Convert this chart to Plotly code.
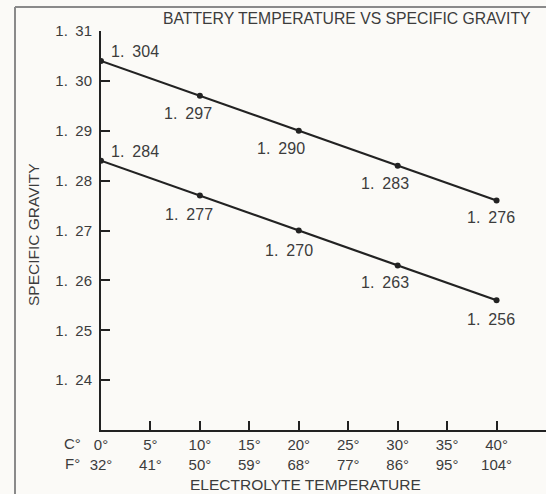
import plotly.graph_objects as go

# Electrolyte temperature (°C) at which specific gravity was read
temp_c = [0, 10, 20, 30, 40]
# Specific gravity, fully charged reading and lower reading
sg_upper = [1.304, 1.297, 1.290, 1.283, 1.276]
sg_lower = [1.284, 1.277, 1.270, 1.263, 1.256]

# Axis tick labels
x_tick_vals = [0, 5, 10, 15, 20, 25, 30, 35, 40]
fahrenheit_labels = ["32°", "41°", "50°", "59°", "68°", "77°", "86°", "95°", "104°"]
y_tick_vals = [1.24, 1.25, 1.26, 1.27, 1.28, 1.29, 1.30, 1.31]

W, H = 546, 494
BG = "#fbfaf7"
INK = "#222222"
TXT = "#3c3c3c"
FONT = "Liberation Sans, Arial, sans-serif"
EN_SPACE = "\u2002"

# label offsets (pixels) for the value captions of each point
upper_dx = [8, -12, -18, -13, -6]
upper_dy = [9, -18, -18, -18, -17]
lower_dx = [8, -11, -10, -13, -6]
lower_dy = [9, -19, -20, -17, -19]


def fmt(v, digits=3):
    return f"{v:.{digits}f}".replace(".", "." + EN_SPACE)


fig = go.Figure()
for ys in (sg_upper, sg_lower):
    fig.add_trace(go.Scatter(
        x=temp_c, y=ys, mode="lines+markers",
        line=dict(color=INK, width=2.2),
        marker=dict(color=INK, size=6),
        showlegend=False, hoverinfo="skip",
    ))

annotations = []
for ys, dxs, dys in ((sg_upper, upper_dx, upper_dy), (sg_lower, lower_dx, lower_dy)):
    for i, (x, y) in enumerate(zip(temp_c, ys)):
        annotations.append(dict(
            x=x, y=y, xref="x", yref="y", text=fmt(y), showarrow=False,
            xanchor="left" if i == 0 else "center", yanchor="middle",
            xshift=dxs[i], yshift=dys[i],
            font=dict(family=FONT, size=16, color=TXT),
        ))

# title, axis titles and unit markers
annotations += [
    dict(x=533 / W, y=1 - 19 / H, xref="paper", yref="paper", xanchor="right",
         yanchor="middle", showarrow=False,
         text="BATTERY TEMPERATURE VS SPECIFIC GRAVITY",
         font=dict(family=FONT, size=15.75, color=TXT)),
    dict(x=33 / W, y=1 - 235 / H, xref="paper", yref="paper", xanchor="center",
         yanchor="middle", showarrow=False, textangle=-90,
         text="SPECIFIC GRAVITY", font=dict(family=FONT, size=15.5, color=TXT)),
    dict(x=305 / W, y=1 - 484 / H, xref="paper", yref="paper", xanchor="center",
         yanchor="middle", showarrow=False,
         text="ELECTROLYTE TEMPERATURE", font=dict(family=FONT, size=15.5, color=TXT)),
    dict(x=72 / W, y=1 - 443 / H, xref="paper", yref="paper", xanchor="center",
         yanchor="middle", showarrow=False,
         text="C°", font=dict(family=FONT, size=15, color=TXT)),
    dict(x=72 / W, y=1 - 463 / H, xref="paper", yref="paper", xanchor="center",
         yanchor="middle", showarrow=False,
         text="F°", font=dict(family=FONT, size=15, color=TXT)),
]

# frame along the left and top edges
shapes = [
    dict(type="line", xref="paper", yref="paper", x0=15 / W, x1=15 / W,
         y0=1 - 7 / H, y1=0, line=dict(color="#8a8a8a", width=2)),
    dict(type="line", xref="paper", yref="paper", x0=15 / W, x1=1,
         y0=1 - 7 / H, y1=1 - 7 / H, line=dict(color="#8a8a8a", width=2)),
]

fig.update_layout(
    width=W, height=H,
    margin=dict(l=0, r=0, t=0, b=0),
    paper_bgcolor=BG, plot_bgcolor=BG,
    annotations=annotations, shapes=shapes,
    font=dict(family=FONT, color=TXT),
    xaxis=dict(
        domain=[101 / W, 1], range=[0, 45], automargin=False,
        showgrid=False, zeroline=False,
        showline=True, linecolor=INK, linewidth=2,
        ticks="inside", ticklen=9, tickwidth=1.5, tickcolor=INK,
        tickvals=x_tick_vals,
        ticktext=[f"{c}°<br>{f}" for c, f in zip(x_tick_vals, fahrenheit_labels)],
        tickfont=dict(family=FONT, size=15, color=TXT),
    ),
    yaxis=dict(
        domain=[64 / H, 1 - 31 / H], range=[1.23, 1.31], automargin=False,
        showgrid=False, zeroline=False,
        showline=True, linecolor=INK, linewidth=2,
        ticks="inside", ticklen=9, tickwidth=1.5, tickcolor=INK,
        tickvals=y_tick_vals,
        ticktext=[fmt(v, 2) for v in y_tick_vals],
        tickfont=dict(family=FONT, size=15, color=TXT),
        ticklabelstandoff=4,
    ),
)

fig.write_html("out.html", post_script="document.body.style.margin='0';")
